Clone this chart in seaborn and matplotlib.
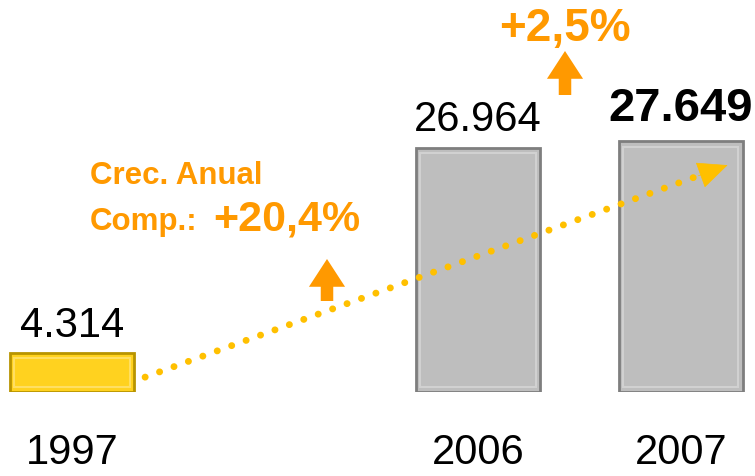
import matplotlib
matplotlib.use("Agg")
import matplotlib.pyplot as plt
from matplotlib.patches import Rectangle
import seaborn as sns
import pandas as pd

# Data
years = ["1997", "2006", "2007"]
values = [4314, 26964, 27649]
value_labels = ["4.314", "26.964", "27.649"]
cagr_label = "+20,4%"
yoy_label = "+2,5%"

# Layout: one empty slot between 1997 and 2006
order = ["1997", "", "2006", "2007"]
bar_colors = {"1997": "#FFD21F", "2006": "#BEBEBE", "2007": "#BEBEBE"}
edge_colors = {"1997": "#B89400", "2006": "#7E7E7E", "2007": "#7E7E7E"}
orange = "#FF9900"
dot_yellow = "#FFC000"

df = pd.DataFrame({"year": years, "value": values})

sns.set_style("white")
plt.rcParams["font.family"] = ["Liberation Sans", "DejaVu Sans"]
plt.rcParams["text.color"] = "black"
plt.rcParams["xtick.color"] = "black"

fig = plt.figure(figsize=(7.55, 4.77), dpi=100)
ax = fig.add_axes([0, 84 / 477, 1, 393 / 477])

sns.barplot(data=df, x="year", y="value", hue="year", order=order,
            hue_order=years, palette=bar_colors, width=0.61,
            legend=False, ax=ax, saturation=1)

# bevelled look: dark outline plus a light inner rim
for patch, yr in zip(ax.patches, years):
    patch.set_edgecolor(edge_colors[yr])
    patch.set_linewidth(2)
    bx, by = patch.get_x(), patch.get_y()
    bw, bh = patch.get_width(), patch.get_height()
    ax.add_patch(Rectangle((bx + bw * 0.035, by + 500), bw * 0.93, bh - 1100,
                           fill=False, edgecolor="white", alpha=0.3, lw=1.5))

ax.set_xlim(-0.355, 3.365)
ax.set_ylim(0, 393 * 110.3)
sns.despine(ax=ax, left=True, bottom=True)
ax.set_yticks([])
ax.set_xlabel("")
ax.set_ylabel("")
ax.tick_params(axis="x", length=0, pad=29, labelsize=30)

# value labels on top of bars
for cont, lbl, yr in zip(ax.containers, value_labels, years):
    if yr == "2007":
        ax.bar_label(cont, labels=[lbl], padding=8, fontsize=34,
                     fontweight="bold")
    else:
        ax.bar_label(cont, labels=[lbl], padding=6, fontsize=30)

# dotted trend arrow from 1997 to 2007
x0, y0 = 0 + 0.36, values[0] * 0.38
x1, y1 = 3 + 0.23, values[2] * 0.905
fx = 0.955
ax.plot([x0, x0 + (x1 - x0) * fx], [y0, y0 + (y1 - y0) * fx],
        color=dot_yellow, lw=5, linestyle=(0, (0.01, 2.2)),
        dash_capstyle="round")
ax.annotate("", xy=(x1, y1),
            xytext=(x0 + (x1 - x0) * 0.95, y0 + (y1 - y0) * 0.95),
            arrowprops=dict(arrowstyle="-|>,head_length=1.0,head_width=0.45",
                            color=dot_yellow, lw=0.5, mutation_scale=20,
                            shrinkA=0, shrinkB=0))


def fig_to_ax(yf):
    return yf * 477 / 393 - 84 / 393


# growth annotations
ax.text(0.119, fig_to_ax(0.631), "Crec. Anual", transform=ax.transAxes,
        color=orange, fontsize=22.5, fontweight="bold", va="center", ha="left")
ax.text(0.119, fig_to_ax(0.535), "Comp.:", transform=ax.transAxes,
        color=orange, fontsize=22.5, fontweight="bold", va="center", ha="left")
ax.text(0.282, fig_to_ax(0.539), cagr_label, transform=ax.transAxes,
        color=orange, fontsize=31, fontweight="bold", va="center", ha="left")
ax.text(0.748, fig_to_ax(0.94), yoy_label, transform=ax.transAxes,
        color=orange, fontsize=33, fontweight="bold", va="center", ha="center")

arrow_style = "simple,head_length=2.0,head_width=2.6,tail_width=0.9"
for xa, ya_top, ya_bot in [(327, 260, 302), (565, 52, 96)]:
    ax.annotate("", xy=(xa / 755, (393 - ya_top) / 393),
                xytext=(xa / 755, (393 - ya_bot) / 393),
                xycoords="axes fraction", textcoords="axes fraction",
                arrowprops=dict(arrowstyle=arrow_style, color=orange, lw=0,
                                mutation_scale=10, shrinkA=0, shrinkB=0))

fig.savefig("out.png", dpi=100)
